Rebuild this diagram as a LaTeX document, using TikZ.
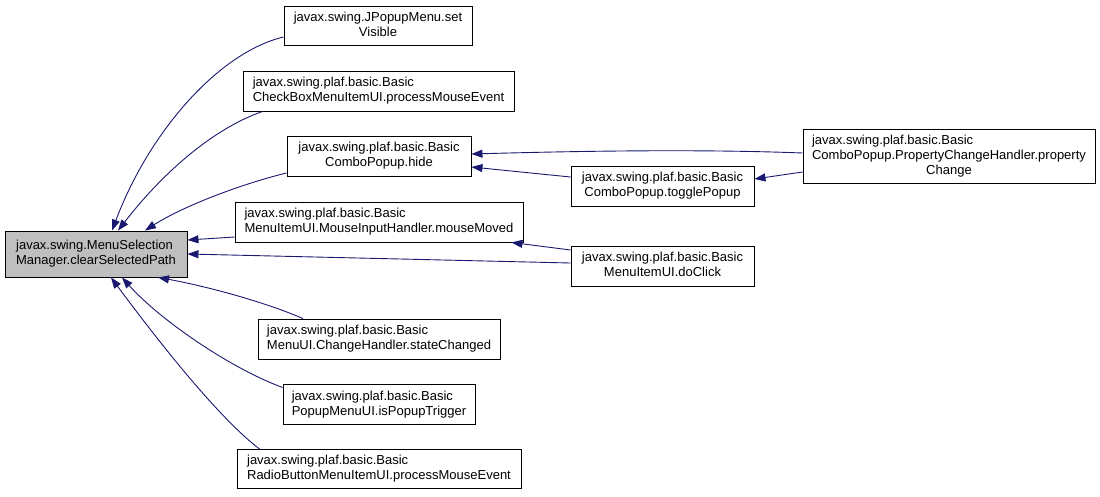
\documentclass[tikz,border=0pt]{standalone}
\usepackage{fontspec}
\setmainfont{Liberation Sans}
\usetikzlibrary{arrows.meta}
\definecolor{edgeblue}{HTML}{191970}
\definecolor{mainfill}{HTML}{BFBFBF}
\newcommand{\twol}[2]{\begin{tabular}{@{}l@{}}#1\\\multicolumn{1}{@{}c@{}}{#2}\end{tabular}}
\newcommand{\threel}[3]{\begin{tabular}{@{}l@{}}#1\\#2\\\multicolumn{1}{@{}c@{}}{#3}\end{tabular}}
\tikzset{
  fnbox/.style={draw=black, line width=0.9pt, inner sep=0pt, minimum height=39pt,
    font=\fontsize{13}{15}\selectfont, fill=white},
  mainbox/.style={fnbox, fill=mainfill, minimum height=46pt},
  edge/.style={draw=edgeblue, line width=0.9pt, -{Triangle[length=11pt,width=8pt]}}
}
\begin{document}
\begin{tikzpicture}[x=1pt,y=-1pt]
\useasboundingbox (0,0) rectangle (1100,496);
% nodes
\node[mainbox, minimum width=182pt] (main) at (96,254) {\twol{javax.swing.MenuSelection}{Manager.clearSelectedPath}};
\node[fnbox, minimum width=188pt] (setVisible) at (378,25.5) {\twol{javax.swing.JPopupMenu.set}{Visible}};
\node[fnbox, minimum width=271pt, minimum height=40pt] (checkBox) at (378.5,91) {\twol{javax.swing.plaf.basic.Basic}{CheckBoxMenuItemUI.processMouseEvent}};
\node[fnbox, minimum width=184pt, minimum height=40pt] (hide) at (379,156) {\twol{javax.swing.plaf.basic.Basic}{ComboPopup.hide}};
\node[fnbox, minimum width=288pt, minimum height=40pt] (mouseMoved) at (379,222) {\twol{javax.swing.plaf.basic.Basic}{MenuItemUI.MouseInputHandler.mouseMoved}};
\node[fnbox, minimum width=242pt, minimum height=40pt] (stateChanged) at (379,339) {\twol{javax.swing.plaf.basic.Basic}{MenuUI.ChangeHandler.stateChanged}};
\node[fnbox, minimum width=192pt, minimum height=40pt] (popupTrigger) at (379,404.5) {\twol{javax.swing.plaf.basic.Basic}{PopupMenuUI.isPopupTrigger}};
\node[fnbox, minimum width=284pt, minimum height=39pt] (radio) at (379,469) {\twol{javax.swing.plaf.basic.Basic}{RadioButtonMenuItemUI.processMouseEvent}};
\node[fnbox, minimum width=183pt, minimum height=40pt] (toggle) at (662.5,186) {\twol{javax.swing.plaf.basic.Basic}{ComboPopup.togglePopup}};
\node[fnbox, minimum width=183pt, minimum height=40pt] (doClick) at (662.5,266) {\twol{javax.swing.plaf.basic.Basic}{MenuItemUI.doClick}};
\node[fnbox, minimum width=292pt, minimum height=54pt] (propChange) at (949,156) {\threel{javax.swing.plaf.basic.Basic}{ComboPopup.PropertyChangeHandler.property}{Change}};
% edges
\draw[edge] ([yshift=-11.5pt]setVisible.west) .. controls (220,52) and (150,130) .. ([xshift=16pt]main.north);
\draw[edge] ([xshift=20pt]checkBox.south west) .. controls (215,128) and (165,170) .. ([xshift=22pt]main.north);
\draw[edge] ([yshift=-17pt]hide.west) .. controls (245,183) and (185,205) .. ([xshift=49pt]main.north);
\draw[edge] ([yshift=-15pt]mouseMoved.west) -- ([yshift=14pt]main.east);
\draw[edge] ([yshift=3pt]doClick.west) -- (main.east);
\draw[edge] ([yshift=16pt]doClick.west) -- ([xshift=-12pt]mouseMoved.south east);
\draw[edge] ([yshift=9pt]toggle.west) -- ([yshift=-11pt]hide.east);
\draw[edge] ([yshift=3pt]propChange.west) .. controls (700,149) and (580,151) .. ([yshift=2pt]hide.east);
\draw[edge] ([yshift=-16pt]propChange.west) -- ([yshift=7pt]toggle.east);
\draw[edge] ([xshift=-76pt]stateChanged.north) .. controls (260,300) and (200,285) .. ([xshift=62pt]main.south);
\draw[edge] ([yshift=17pt]popupTrigger.west) .. controls (230,368) and (160,320) .. ([xshift=26pt]main.south);
\draw[edge] ([xshift=23pt]radio.north west) .. controls (215,415) and (150,330) .. ([xshift=15pt]main.south);
\end{tikzpicture}
\end{document}
